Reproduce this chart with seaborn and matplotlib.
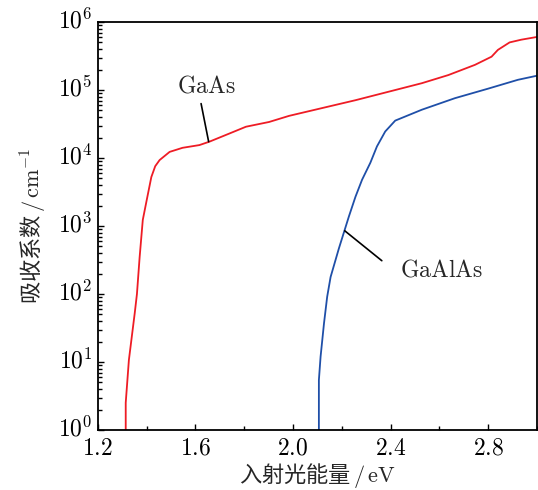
import numpy as np
import pandas as pd
import matplotlib
matplotlib.use("Agg")
import matplotlib.pyplot as plt
import matplotlib.transforms as mtransforms
import seaborn as sns
from matplotlib.ticker import FixedLocator, MultipleLocator, LogLocator, NullFormatter

# GaAs absorption (x in eV, log10 of alpha in cm^-1)
gaas_x = [1.314, 1.314, 1.327, 1.351, 1.360, 1.371, 1.384, 1.400, 1.419, 1.435, 1.453, 1.494,
          1.547, 1.616, 1.657, 1.739, 1.807, 1.902, 1.984, 2.256, 2.528, 2.637,
          2.746, 2.814, 2.840, 2.888, 2.936, 3.000]
gaas_logy = [0.0, 0.40, 1.03, 1.72, 2.00, 2.54, 3.09, 3.38, 3.72, 3.88, 3.97, 4.09,
             4.15, 4.19, 4.24, 4.36, 4.46, 4.53, 4.62, 4.85, 5.10, 5.22,
             5.37, 5.49, 5.59, 5.70, 5.74, 5.78]
# GaAlAs absorption
gaalas_x = [2.106, 2.106, 2.113, 2.127, 2.140, 2.154, 2.188, 2.229, 2.256, 2.283,
            2.317, 2.344, 2.378, 2.419, 2.528, 2.664, 2.800, 2.922, 3.000]
gaalas_logy = [0.0, 0.735, 1.08, 1.57, 1.96, 2.25, 2.67, 3.14, 3.43, 3.68,
               3.93, 4.17, 4.39, 4.55, 4.71, 4.88, 5.02, 5.15, 5.21]

x_ticks = [1.2, 1.6, 2.0, 2.4, 2.8]
x_ticklabels = ["1.2", "1.6", "2.0", "2.4", "2.8"]
y_exps = [0, 1, 2, 3, 4, 5, 6]

sns.set_theme(style="white")
plt.rcParams["font.family"] = ["Noto Sans CJK SC", "DejaVu Serif"]
plt.rcParams["mathtext.fontset"] = "cm"

df = pd.concat([
    pd.DataFrame({"E": gaas_x, "alpha": 10.0 ** np.array(gaas_logy), "mat": "GaAs"}),
    pd.DataFrame({"E": gaalas_x, "alpha": 10.0 ** np.array(gaalas_logy), "mat": "GaAlAs"}),
])

fig = plt.figure(figsize=(5.38, 4.90), dpi=100)
ax = fig.add_axes([0.182, 0.1224, 0.816, 0.8327])
sns.lineplot(data=df, x="E", y="alpha", hue="mat", palette={"GaAs": "#ee1c25", "GaAlAs": "#1f4fa8"},
             sort=False, estimator=None, linewidth=1.3, legend=False, ax=ax)
ax.set_yscale("log")
ax.set_xlim(1.2, 3.0)
ax.set_ylim(1, 1e6)

ax.xaxis.set_major_locator(FixedLocator(x_ticks))
ax.set_xticklabels([r"$%s$" % t for t in x_ticklabels])
ax.xaxis.set_minor_locator(MultipleLocator(0.2))
ax.yaxis.set_major_locator(FixedLocator([10.0 ** e for e in y_exps]))
ax.set_yticklabels([r"$10^{%d}$" % e for e in y_exps])
ax.yaxis.set_minor_locator(LogLocator(base=10, subs=np.arange(2, 10)))
ax.yaxis.set_minor_formatter(NullFormatter())

ax.tick_params(which="both", direction="in", left=True, bottom=True, top=False, right=False,
               labelsize=17, width=1.0, colors="black")
ax.tick_params(which="major", length=4)
ax.tick_params(which="minor", length=3)
ax.tick_params(axis="x", pad=5)
ax.tick_params(axis="y", pad=4)
for s in ax.spines.values():
    s.set_color("black")
    s.set_linewidth(1.3)

# align the "10" of each y label with its tick (superscript sits above)
offset = mtransforms.ScaledTranslation(0, 4 / 100, fig.dpi_scale_trans)
for lab in ax.get_yticklabels():
    lab.set_transform(lab.get_transform() + offset)

ax.set_xlabel("入射光能量" + r"$\,/\,\mathrm{eV}$", fontsize=16, labelpad=1)
ax.set_ylabel("吸收系数" + r"$\,/\,\mathrm{cm}^{-1}$", fontsize=16, labelpad=6)

ax.plot([1.623, 1.654], [10 ** 4.80, 10 ** 4.24], color="black", lw=1.2)
ax.text(1.643, 10 ** 5.06, r"$\mathrm{GaAs}$", ha="center", va="center", fontsize=17)
ax.plot([2.212, 2.364], [10 ** 2.93, 10 ** 2.49], color="black", lw=1.2)
ax.text(2.608, 10 ** 2.35, r"$\mathrm{GaAlAs}$", ha="center", va="center", fontsize=17)

fig.savefig("out.png", dpi=100)
